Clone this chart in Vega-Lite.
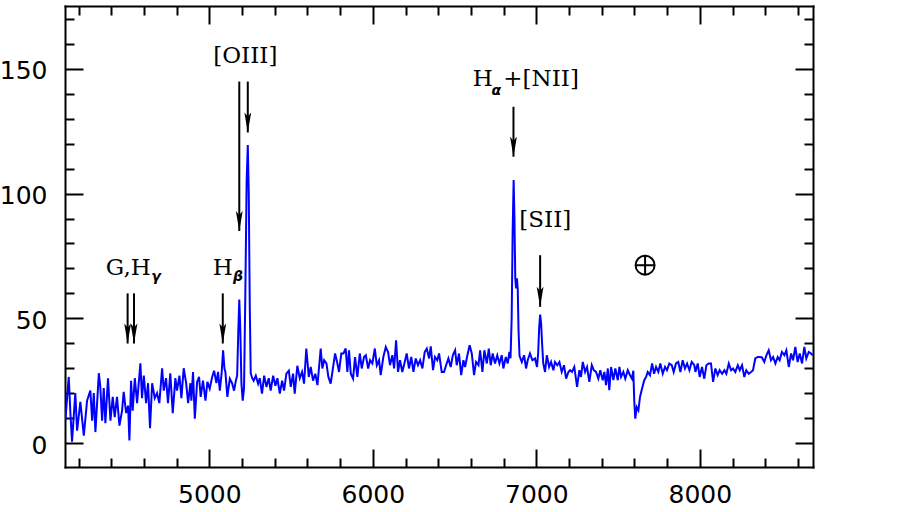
{
  "$schema": "https://vega.github.io/schema/vega-lite/v6.json",
  "width": 748,
  "height": 461,
  "autosize": {"type": "none"},
  "padding": {"left": 65, "top": 6, "right": 84, "bottom": 45},
  "background": "white",
  "config": {
    "view": {"stroke": null},
    "axis": {
      "domainColor": "black", "domainWidth": 2, "domainCap": "square",
      "tickColor": "black", "tickWidth": 2, "grid": false,
      "labelFont": "DejaVu Sans", "labelFontSize": 25, "labelColor": "black",
      "title": null, "labelOverlap": false, "labelFlush": false
    }
  },
  "resolve": {"axis": {"x": "independent", "y": "independent"}},
  "layer": [
    {
      "data": {"values": [
        {"w":4119,"f":9.1},{"w":4140,"f":26.5},{"w":4150,"f":12},{"w":4160,"f":0.5},{"w":4180,"f":20},{"w":4191,"f":5},{"w":4211,"f":16.5},{"w":4232,"f":3},{"w":4252,"f":17},{"w":4272,"f":21},{"w":4283,"f":9},{"w":4293,"f":20},{"w":4303,"f":4.4},{"w":4324,"f":28},{"w":4333,"f":22.5},{"w":4344,"f":9},{"w":4354,"f":22},{"w":4364,"f":8},{"w":4380,"f":26},{"w":4395,"f":9},{"w":4409,"f":18.5},{"w":4421,"f":10.4},{"w":4435,"f":18.5},{"w":4450,"f":7},{"w":4466,"f":13},{"w":4476,"f":20.5},{"w":4491,"f":12},{"w":4503,"f":15},{"w":4511,"f":1},{"w":4521,"f":25},{"w":4531,"f":13},{"w":4544,"f":26},{"w":4558,"f":16},{"w":4578,"f":32},{"w":4588,"f":18},{"w":4599,"f":27},{"w":4613,"f":16},{"w":4625,"f":24},{"w":4637,"f":6},{"w":4650,"f":24},{"w":4666,"f":18},{"w":4680,"f":20},{"w":4694,"f":16},{"w":4711,"f":30},{"w":4721,"f":21},{"w":4735,"f":26},{"w":4747,"f":16},{"w":4761,"f":28},{"w":4776,"f":12},{"w":4792,"f":26},{"w":4802,"f":21},{"w":4817,"f":27},{"w":4829,"f":18},{"w":4843,"f":30},{"w":4858,"f":24},{"w":4870,"f":16},{"w":4884,"f":24},
        {"w":4890,"f":17},{"w":4900,"f":28.5},{"w":4911,"f":9.8},{"w":4925,"f":24.5},{"w":4937,"f":26.5},{"w":4947,"f":18.5},{"w":4961,"f":25},{"w":4976,"f":17},{"w":4988,"f":24.5},{"w":5002,"f":21.8},{"w":5017,"f":26.5},{"w":5029,"f":29},{"w":5043,"f":24},{"w":5053,"f":28.5},{"w":5064,"f":21},{"w":5075,"f":28},{"w":5084,"f":37.2},{"w":5092,"f":30},{"w":5098,"f":28.5},{"w":5110,"f":18.5},{"w":5125,"f":25.8},{"w":5139,"f":24},{"w":5151,"f":21},{"w":5162,"f":25},{"w":5170,"f":27},{"w":5177,"f":45},{"w":5183,"f":57.5},{"w":5189,"f":46},{"w":5196,"f":24},{"w":5204,"f":17},{"w":5212,"f":22},{"w":5220,"f":60},{"w":5228,"f":105},{"w":5235,"f":119.5},{"w":5241,"f":100},{"w":5247,"f":55},{"w":5253,"f":28},{"w":5262,"f":26},{"w":5271,"f":25},{"w":5284,"f":27},{"w":5298,"f":23.8},{"w":5308,"f":26},{"w":5322,"f":19.8},{"w":5335,"f":27},{"w":5349,"f":22.5},{"w":5363,"f":26},{"w":5375,"f":21},{"w":5390,"f":27},{"w":5404,"f":23},{"w":5416,"f":26},{"w":5431,"f":19.8},{"w":5445,"f":25},{"w":5457,"f":21},{"w":5471,"f":27.8},{"w":5486,"f":29},{"w":5498,"f":22.5},{"w":5512,"f":27.8},{"w":5522,"f":19.8},{"w":5538,"f":31},{"w":5553,"f":26},{"w":5567,"f":28.5},{"w":5579,"f":23.8},{"w":5593,"f":37.9},{"w":5608,"f":26.5},{"w":5620,"f":30.5},{"w":5634,"f":25},{"w":5648,"f":27.8},
        {"w":5661,"f":23.2},{"w":5671,"f":30.5},{"w":5681,"f":37.9},{"w":5691,"f":29.9},{"w":5702,"f":33.2},{"w":5716,"f":31.9},{"w":5728,"f":26.5},{"w":5742,"f":23.8},{"w":5757,"f":30.5},{"w":5769,"f":35.9},{"w":5783,"f":31.9},{"w":5793,"f":28.5},{"w":5807,"f":35.9},{"w":5820,"f":35.9},{"w":5834,"f":37.9},{"w":5844,"f":28.5},{"w":5854,"f":37.2},{"w":5865,"f":27.8},{"w":5879,"f":25.8},{"w":5891,"f":34.5},{"w":5905,"f":26.5},{"w":5920,"f":35.9},{"w":5932,"f":29.9},{"w":5946,"f":34.5},{"w":5957,"f":35.2},{"w":5971,"f":29.9},{"w":5983,"f":33.2},{"w":5997,"f":31.9},{"w":6012,"f":37.9},{"w":6024,"f":31.2},{"w":6038,"f":33.2},{"w":6048,"f":27.2},{"w":6064,"f":34.5},{"w":6079,"f":38.5},{"w":6093,"f":36.5},{"w":6105,"f":31.2},{"w":6119,"f":35.2},{"w":6130,"f":29.9},{"w":6142,"f":41.2},{"w":6154,"f":28.5},{"w":6166,"f":33.2},{"w":6180,"f":28.5},{"w":6195,"f":32.5},{"w":6207,"f":35.9},{"w":6221,"f":29.9},{"w":6235,"f":34.5},{"w":6248,"f":28.5},{"w":6262,"f":33.9},{"w":6276,"f":31.2},{"w":6289,"f":33.2},{"w":6303,"f":29.9},{"w":6317,"f":36.5},{"w":6330,"f":37.9},{"w":6344,"f":33.9},{"w":6354,"f":38.8},{"w":6368,"f":29.2},{"w":6380,"f":34.5},{"w":6394,"f":33.2},{"w":6405,"f":35.9},{"w":6421,"f":28.5},
        {"w":6435,"f":28.5},{"w":6448,"f":31.2},{"w":6462,"f":33.9},{"w":6476,"f":30.5},{"w":6489,"f":35.2},{"w":6503,"f":37.2},{"w":6513,"f":31.2},{"w":6527,"f":35.9},{"w":6540,"f":27.2},{"w":6554,"f":33.2},{"w":6564,"f":30.5},{"w":6578,"f":35.2},{"w":6592,"f":39.2},{"w":6605,"f":35.9},{"w":6619,"f":27.2},{"w":6631,"f":32.5},{"w":6646,"f":31.2},{"w":6656,"f":37.2},{"w":6670,"f":28.5},{"w":6682,"f":37.2},{"w":6697,"f":31.9},{"w":6709,"f":37.9},{"w":6721,"f":31.2},{"w":6733,"f":35.9},{"w":6747,"f":31.9},{"w":6761,"f":35.2},{"w":6774,"f":31.9},{"w":6788,"f":35.2},{"w":6798,"f":29.9},{"w":6813,"f":34.5},{"w":6825,"f":31.9},{"w":6835,"f":36.5},{"w":6842,"f":34},{"w":6849,"f":50},{"w":6855,"f":85},{"w":6861,"f":105.4},{"w":6866,"f":90},{"w":6871,"f":66},{"w":6876,"f":62},{"w":6881,"f":66},{"w":6886,"f":62},{"w":6891,"f":45},{"w":6897,"f":35},{"w":6911,"f":32.5},{"w":6925,"f":35.2},{"w":6937,"f":29.9},{"w":6947,"f":33.2},{"w":6961,"f":35.9},{"w":6976,"f":33.2},{"w":6992,"f":33.9},{"w":7004,"f":30.5},{"w":7011,"f":36},{"w":7017,"f":46},{"w":7023,"f":51.5},{"w":7029,"f":48},{"w":7035,"f":40},{"w":7042,"f":32},{"w":7053,"f":28.5},{"w":7064,"f":35.2},{"w":7078,"f":30.5},{"w":7090,"f":32.5},{"w":7104,"f":29.2},{"w":7114,"f":32.5},{"w":7128,"f":31.2},{"w":7141,"f":32.5},{"w":7155,"f":28.5},{"w":7169,"f":31.2},{"w":7182,"f":25.8},{"w":7196,"f":28.5},
        {"w":7206,"f":29.2},{"w":7218,"f":28.5},{"w":7232,"f":30.5},{"w":7249,"f":22.5},{"w":7263,"f":29.2},{"w":7273,"f":26.5},{"w":7284,"f":32.5},{"w":7298,"f":28.5},{"w":7310,"f":30.5},{"w":7324,"f":24.5},{"w":7339,"f":31.2},{"w":7351,"f":29.2},{"w":7365,"f":28.5},{"w":7379,"f":25.8},{"w":7391,"f":29.2},{"w":7406,"f":25.2},{"w":7416,"f":28.5},{"w":7426,"f":23.2},{"w":7437,"f":29.9},{"w":7446,"f":21.2},{"w":7457,"f":30.5},{"w":7471,"f":25.2},{"w":7483,"f":29.9},{"w":7498,"f":25.2},{"w":7508,"f":30.5},{"w":7518,"f":26.5},{"w":7532,"f":28.5},{"w":7544,"f":25.8},{"w":7559,"f":29.2},{"w":7573,"f":27.2},{"w":7585,"f":25.8},{"w":7593,"f":29},{"w":7599,"f":16.5},{"w":7605,"f":9.8},{"w":7614,"f":14.4},{"w":7624,"f":13.1},{"w":7634,"f":18.5},{"w":7646,"f":21.8},{"w":7660,"f":25.2},{"w":7671,"f":26.5},{"w":7681,"f":28.5},{"w":7695,"f":27.2},{"w":7708,"f":31.9},{"w":7720,"f":27.8},{"w":7732,"f":30.5},{"w":7746,"f":28.5},{"w":7758,"f":31.9},{"w":7773,"f":27.8},{"w":7787,"f":30.5},{"w":7799,"f":29.2},{"w":7813,"f":31.9},{"w":7828,"f":31.2},{"w":7840,"f":28.5},{"w":7854,"f":31.9},{"w":7868,"f":32.5},{"w":7881,"f":28.5},{"w":7895,"f":33.2},{"w":7909,"f":29.9},{"w":7922,"f":31.9},{"w":7936,"f":29.2},{"w":7950,"f":32.5},{"w":7966,"f":31.2},
        {"w":7973,"f":28.5},{"w":7987,"f":31.9},{"w":7999,"f":26.5},{"w":8013,"f":30.5},{"w":8027,"f":25.8},{"w":8040,"f":31.2},{"w":8054,"f":31.9},{"w":8068,"f":31.9},{"w":8081,"f":24.5},{"w":8095,"f":29.9},{"w":8109,"f":27.2},{"w":8121,"f":29.2},{"w":8136,"f":27.8},{"w":8150,"f":29.2},{"w":8162,"f":27.8},{"w":8177,"f":31.9},{"w":8191,"f":29.2},{"w":8203,"f":29.9},{"w":8217,"f":28.5},{"w":8232,"f":31.2},{"w":8244,"f":29.2},{"w":8258,"f":31.2},{"w":8272,"f":26.5},{"w":8284,"f":29.2},{"w":8299,"f":27.8},{"w":8313,"f":28.5},{"w":8325,"f":29.2},{"w":8339,"f":33.9},{"w":8354,"f":34.5},{"w":8366,"f":34.5},{"w":8380,"f":34.3},{"w":8394,"f":32.5},{"w":8407,"f":35.2},{"w":8421,"f":37.2},{"w":8435,"f":33.2},{"w":8448,"f":34.5},{"w":8462,"f":31.9},{"w":8476,"f":34.5},{"w":8488,"f":33.2},{"w":8502,"f":36.5},{"w":8517,"f":35.2},{"w":8529,"f":37.2},{"w":8544,"f":30.5},{"w":8558,"f":35.9},{"w":8570,"f":33.2},{"w":8584,"f":38.5},{"w":8598,"f":32.5},{"w":8611,"f":35.9},{"w":8625,"f":31.9},{"w":8639,"f":38.5},{"w":8651,"f":33.9},{"w":8666,"f":36.5},{"w":8680,"f":35.9},{"w":8690,"f":35.2}
      ]},
      "mark": {"type": "line", "color": "#0000ff", "strokeWidth": 2, "clip": true},
      "encoding": {
        "x": {"field": "w", "type": "quantitative",
          "scale": {"domain": [4117, 8692], "nice": false, "zero": false},
          "axis": {"orient": "bottom",
            "values": [4200,4400,4600,4800,5000,5200,5400,5600,5800,6000,6200,6400,6600,6800,7000,7200,7400,7600,7800,8000,8200,8400,8600],
            "tickSize": {"condition": {"test": "datum.value % 1000 === 0", "value": -18}, "value": -9},
            "labelExpr": "datum.value % 1000 === 0 ? datum.value + '' : ''",
            "labelPadding": 33}},
        "y": {"field": "f", "type": "quantitative",
          "scale": {"domain": [-9.6, 175.2], "nice": false, "zero": false},
          "axis": {"orient": "left",
            "values": [0,10,20,30,40,50,60,70,80,90,100,110,120,130,140,150,160,170],
            "tickSize": {"condition": {"test": "datum.value % 50 === 0", "value": -18}, "value": -9},
            "labelExpr": "datum.value % 50 === 0 ? datum.value + '' : ''",
            "labelPadding": 36, "labelOffset": 2}}
      }
    },
    {
      "data": {"values": [
        {"x": 4500, "top": 60, "tip": 39.9},
        {"x": 4539, "top": 60, "tip": 39.9},
        {"x": 5082, "top": 60, "tip": 39.9},
        {"x": 5183, "top": 144.9, "tip": 85},
        {"x": 5235, "top": 144.9, "tip": 124.5},
        {"x": 6860, "top": 134.8, "tip": 114.8},
        {"x": 7023, "top": 75.3, "tip": 54.6}
      ]},
      "mark": {"type": "rule", "color": "black", "strokeWidth": 2},
      "encoding": {
        "x": {"field": "x", "type": "quantitative",
          "scale": {"domain": [4117, 8692], "nice": false, "zero": false},
          "axis": {"orient": "top", "labels": false,
            "values": [4200,4400,4600,4800,5000,5200,5400,5600,5800,6000,6200,6400,6600,6800,7000,7200,7400,7600,7800,8000,8200,8400,8600],
            "tickSize": {"condition": {"test": "datum.value % 1000 === 0", "value": -18}, "value": -9}}},
        "y": {"field": "top", "type": "quantitative",
          "scale": {"domain": [-9.6, 175.2], "nice": false, "zero": false},
          "axis": {"orient": "right", "labels": false,
            "values": [0,10,20,30,40,50,60,70,80,90,100,110,120,130,140,150,160,170],
            "tickSize": {"condition": {"test": "datum.value % 50 === 0", "value": -18}, "value": -9}}},
        "y2": {"field": "tip"}
      }
    },
    {
      "data": {"values": [
        {"x": 4500, "tip": 39.9},
        {"x": 4539, "tip": 39.9},
        {"x": 5082, "tip": 39.9},
        {"x": 5183, "tip": 85},
        {"x": 5235, "tip": 124.5},
        {"x": 6860, "tip": 114.8},
        {"x": 7023, "tip": 54.6}
      ]},
      "mark": {"type": "point", "shape": "M-0.17,-1L0,0L0.17,-1L0,-0.8Z", "size": 1600, "filled": true, "color": "black", "opacity": 1, "strokeWidth": 0},
      "encoding": {
        "x": {"field": "x", "type": "quantitative", "axis": null},
        "y": {"field": "tip", "type": "quantitative", "axis": null}
      }
    },
    {
      "data": {"values": [
        {"label": "[OIII]", "x": 5024, "y": 152.2},
        {"label": "G,H", "x": 4367, "y": 67.2},
        {"label": "H", "x": 5021, "y": 67.2},
        {"label": "H", "x": 6611, "y": 143.3},
        {"label": "+[NII]", "x": 6798, "y": 143.3},
        {"label": "[SII]", "x": 6896, "y": 86.7}
      ]},
      "mark": {"type": "text", "font": "DejaVu Serif", "fontSize": 23, "align": "left", "baseline": "alphabetic", "color": "black"},
      "encoding": {
        "x": {"field": "x", "type": "quantitative", "axis": null},
        "y": {"field": "y", "type": "quantitative", "axis": null},
        "text": {"field": "label"}
      }
    },
    {
      "data": {"values": [
        {"label": "γ", "x": 4645, "y": 65.1},
        {"label": "β", "x": 5145, "y": 65.1},
        {"label": "α", "x": 6725, "y": 139.5}
      ]},
      "mark": {"type": "text", "font": "DejaVu Sans", "fontSize": 14, "fontWeight": "bold", "fontStyle": "italic", "align": "left", "baseline": "alphabetic", "color": "black"},
      "encoding": {
        "x": {"field": "x", "type": "quantitative", "axis": null},
        "y": {"field": "y", "type": "quantitative", "axis": null},
        "text": {"field": "label"}
      }
    },
    {
      "data": {"values": [{"x": 7665, "y": 71.3}]},
      "mark": {"type": "point", "shape": "circle", "size": 361, "filled": false, "color": "black", "strokeWidth": 2, "opacity": 1},
      "encoding": {
        "x": {"field": "x", "type": "quantitative", "axis": null},
        "y": {"field": "y", "type": "quantitative", "axis": null}
      }
    },
    {
      "data": {"values": [{"x": 7665, "y": 71.3}]},
      "mark": {"type": "point", "shape": "M-1,0L1,0M0,-1L0,1", "size": 361, "filled": false, "color": "black", "strokeWidth": 2, "opacity": 1},
      "encoding": {
        "x": {"field": "x", "type": "quantitative", "axis": null},
        "y": {"field": "y", "type": "quantitative", "axis": null}
      }
    }
  ]
}
